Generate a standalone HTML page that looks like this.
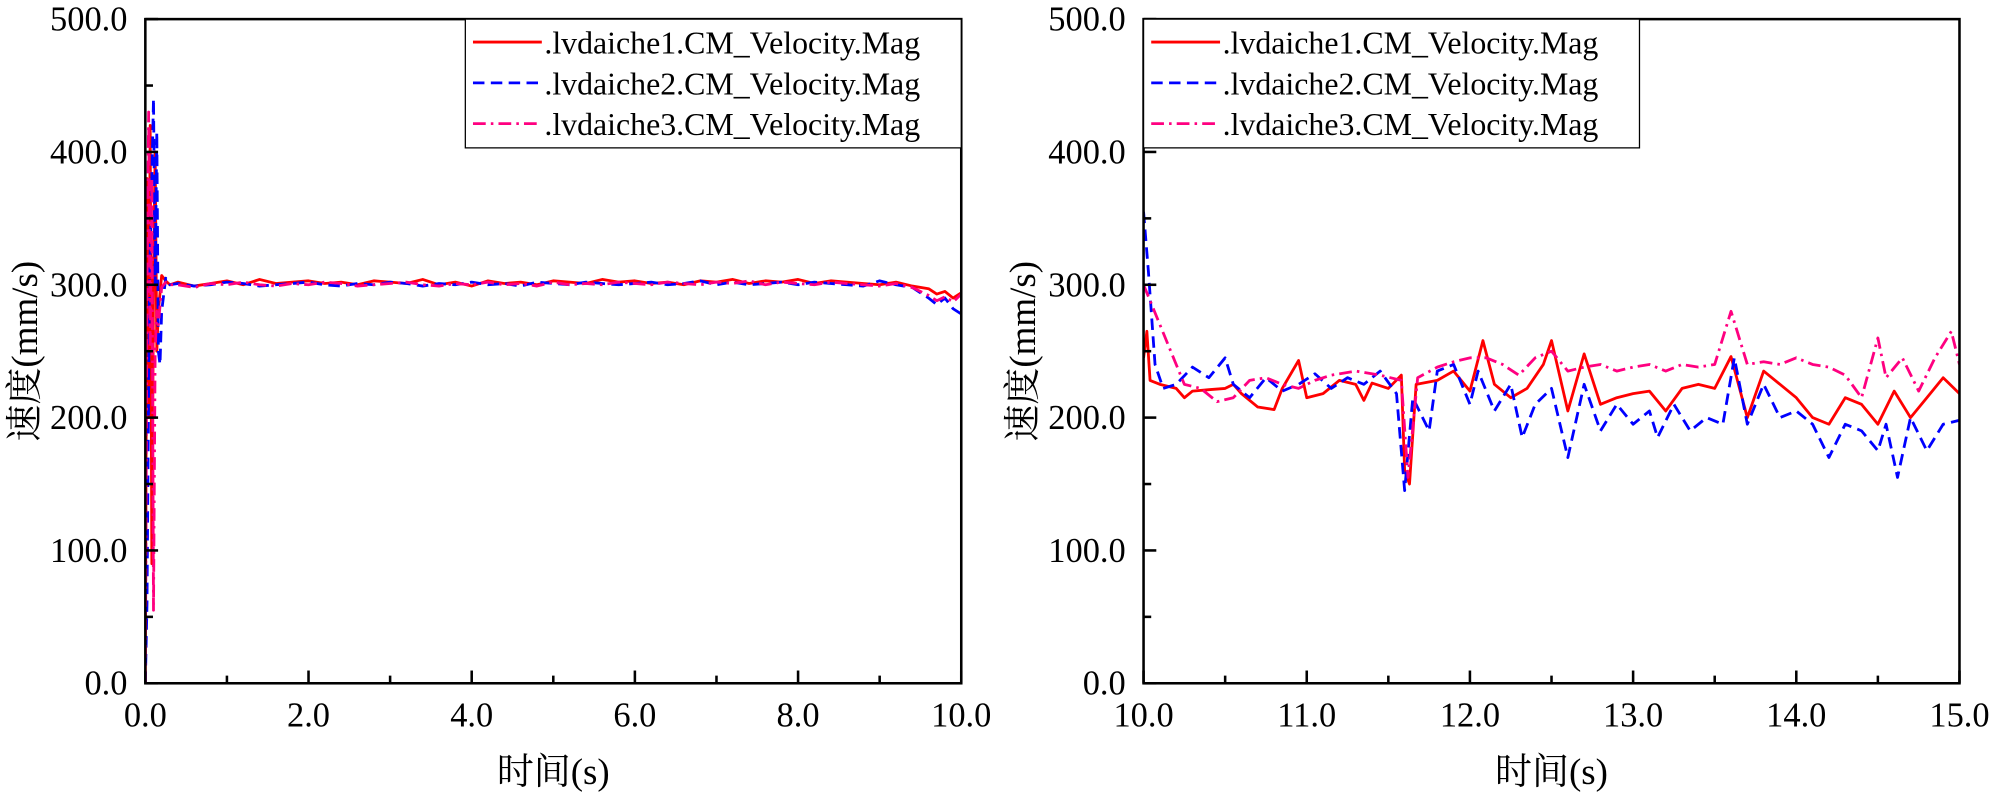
<!DOCTYPE html>
<html><head><meta charset="utf-8"><style>
html,body{margin:0;padding:0;background:#fff;}
svg{display:block;}
text{font-family:"Liberation Serif","Noto Serif CJK SC",serif;fill:#000;}
</style></head><body>
<svg id="chart" width="1999" height="798" viewBox="0 0 1568 626" preserveAspectRatio="none"></svg>
<script>
// ---------- Left chart data (0–10 s) ----------
const leftT1 = [0,0.02,0.04,0.06,0.08,0.1,0.12,0.14,0.16,0.2,0.25,0.3,0.4,0.6,0.8,1.0,1.2,1.4,1.6,1.8,2.0,2.2,2.4,2.6,2.8,3.0,3.2,3.4,3.6,3.8,4.0,4.2,4.4,4.6,4.8,5.0,5.2,5.4,5.6,5.8,6.0,6.2,6.4,6.6,6.8,7.0,7.2,7.4,7.6,7.8,8.0,8.2,8.4,8.6,8.8,9.0,9.2,9.4,9.6,9.7,9.8,9.9,10.0];
const leftV1 = [0,380,200,420,90,300,400,250,280,307,303,300,302,299,301,303,300,304,301,302,303,301,302,300,303,302,301,304,300,302,299,303,301,302,300,303,302,301,304,302,303,301,302,300,303,302,304,301,303,302,304,301,303,302,301,300,302,299,297,293,295,290,294];
const leftT2 = [0,0.02,0.05,0.08,0.1,0.12,0.14,0.16,0.18,0.2,0.25,0.3,0.4,0.6,0.8,1.0,1.2,1.4,1.6,1.8,2.0,2.2,2.4,2.6,2.8,3.0,3.2,3.4,3.6,3.8,4.0,4.2,4.4,4.6,4.8,5.0,5.2,5.4,5.6,5.8,6.0,6.2,6.4,6.6,6.8,7.0,7.2,7.4,7.6,7.8,8.0,8.2,8.4,8.6,8.8,9.0,9.2,9.4,9.6,9.7,9.8,9.9,10.0];
const leftV2 = [0,60,300,380,440,300,415,250,240,280,305,300,301,299,300,302,301,299,300,301,302,300,299,301,300,302,301,299,301,300,302,300,301,299,302,301,300,302,301,300,301,302,300,301,303,300,302,300,301,302,300,302,301,300,299,303,300,298,290,285,290,282,278];
const leftT3 = [0,0.02,0.04,0.06,0.08,0.1,0.12,0.14,0.16,0.2,0.25,0.3,0.4,0.6,0.8,1.0,1.2,1.4,1.6,1.8,2.0,2.2,2.4,2.6,2.8,3.0,3.2,3.4,3.6,3.8,4.0,4.2,4.4,4.6,4.8,5.0,5.2,5.4,5.6,5.8,6.0,6.2,6.4,6.6,6.8,7.0,7.2,7.4,7.6,7.8,8.0,8.2,8.4,8.6,8.8,9.0,9.2,9.4,9.6,9.7,9.8,9.9,10.0];
const leftV3 = [0,300,430,250,380,55,250,280,270,298,302,300,300,298,301,300,302,300,299,301,300,302,301,299,300,301,302,300,299,301,300,302,300,301,299,302,300,301,300,302,301,300,302,301,300,302,301,303,300,302,301,300,302,301,300,299,301,298,292,288,291,287,293];
// ---------- Right chart data (10–15 s) ----------
const rightT1 = [10.0,10.02,10.04,10.1,10.2,10.25,10.3,10.4,10.5,10.55,10.6,10.7,10.8,10.85,10.95,11.0,11.1,11.2,11.3,11.35,11.4,11.5,11.58,11.6,11.63,11.67,11.8,11.9,12.0,12.08,12.15,12.25,12.35,12.45,12.5,12.6,12.7,12.8,12.9,13.0,13.1,13.2,13.3,13.4,13.5,13.6,13.7,13.8,13.9,14.0,14.1,14.2,14.3,14.4,14.5,14.6,14.7,14.8,14.9,15.0];
const rightV1 = [245,265,228,225,222,215,220,221,222,225,218,208,206,222,243,215,218,228,225,213,226,222,232,160,150,225,228,235,220,258,225,215,222,240,258,205,248,210,215,218,220,205,222,225,222,246,200,235,225,215,200,195,215,210,195,220,200,215,230,218];
const rightT2 = [10.0,10.03,10.07,10.12,10.2,10.3,10.4,10.5,10.55,10.65,10.75,10.85,10.95,11.05,11.15,11.25,11.35,11.45,11.55,11.6,11.65,11.75,11.8,11.9,12.0,12.05,12.15,12.25,12.32,12.4,12.5,12.6,12.7,12.8,12.9,13.0,13.1,13.15,13.25,13.35,13.45,13.55,13.62,13.7,13.8,13.9,14.0,14.1,14.2,14.3,14.4,14.5,14.55,14.62,14.7,14.8,14.9,15.0];
const rightV2 = [355,310,240,222,225,238,230,245,225,215,230,220,225,233,222,230,225,235,218,145,215,190,235,240,210,235,205,225,185,210,222,170,225,190,210,195,205,185,210,190,200,195,245,195,225,200,205,195,170,195,190,175,195,155,200,175,195,198];
const rightT3 = [10.0,10.05,10.15,10.25,10.35,10.45,10.55,10.65,10.75,10.85,10.95,11.05,11.15,11.3,11.45,11.58,11.62,11.68,11.8,11.9,12.0,12.1,12.2,12.3,12.4,12.5,12.6,12.7,12.8,12.9,13.0,13.1,13.2,13.3,13.4,13.5,13.6,13.7,13.8,13.9,14.0,14.1,14.2,14.3,14.4,14.5,14.55,14.65,14.75,14.85,14.95,15.0];
const rightV3 = [300,285,255,225,222,212,215,228,230,225,222,228,232,235,232,228,155,230,238,242,245,245,240,232,245,250,235,238,240,235,238,240,235,240,238,240,280,240,242,240,245,240,238,232,215,260,230,245,220,245,265,240];
const yTicks = [0,100,200,300,400,500];
const leftXTicks = [0,2,4,6,8,10];
const rightXTicks = [10,11,12,13,14,15];
const legendLabels = [".lvdaiche1.CM_Velocity.Mag",".lvdaiche2.CM_Velocity.Mag",".lvdaiche3.CM_Velocity.Mag"];

const NS="http://www.w3.org/2000/svg";
const svg=document.getElementById('chart');
function mk(tag,attrs,parent){const e=document.createElementNS(NS,tag);for(const k in attrs)e.setAttribute(k,attrs[k]);(parent||svg).appendChild(e);return e;}
const styles=[{stroke:'#ff0000',dash:''},{stroke:'#0000ff',dash:'9,5'},{stroke:'#ff0080',dash:'10,4,2,4'}];

function panel(id,x0,x1,xmin,xmax,xTicks,minorStep,series,leg){
  const top=15,bot=536;
  const sx=v=>x0+(v-xmin)/(xmax-xmin)*(x1-x0);
  const sy=v=>bot-(v/500)*(bot-top);
  const g=mk('g',{});
  
  
  const clip=mk('clipPath',{id:id+'-clip'},g);
  mk('rect',{x:x0,y:top,width:x1-x0,height:bot-top},clip);
  series.forEach((s,i)=>{
    const d=s.t.map((t,j)=>(j?'L':'M')+sx(t).toFixed(1)+','+sy(s.v[j]).toFixed(1)).join('');
    const p=mk('path',{d:d,fill:'none',stroke:styles[i].stroke,'stroke-width':2.2,'stroke-dasharray':styles[i].dash,'stroke-linejoin':'round','clip-path':'url(#'+id+'-clip)'},g);
    
    
  });
  const fr=mk('rect',{x:x0,y:top,width:x1-x0,height:bot-top,fill:'none',stroke:'#000','stroke-width':2},g);
  
  
  for(let v=0;v<=500;v+=50){
    const major=v%100===0;
    mk('line',{x1:x0,x2:x0+(major?10:6),y1:sy(v),y2:sy(v),stroke:'#000','stroke-width':2},g);
  }
  yTicks.forEach(v=>{
    const t=mk('text',{x:x0-14,y:sy(v)+9,'text-anchor':'end','font-size':27},g);
    t.textContent=v.toFixed(1);
    
    
  });
  for(let v=xmin;v<=xmax+1e-9;v+=minorStep){
    const major=xTicks.some(m=>Math.abs(m-v)<1e-6);
    mk('line',{x1:sx(v),x2:sx(v),y1:bot,y2:bot-(major?10:6),stroke:'#000','stroke-width':2},g);
  }
  xTicks.forEach(v=>{
    const t=mk('text',{x:sx(v),y:bot+34,'text-anchor':'middle','font-size':27},g);
    t.textContent=v.toFixed(1);
    
    
  });
  const xt=mk('text',{x:(x0+x1)/2,y:615,'text-anchor':'middle','font-size':29},g);
  xt.textContent='时间(s)';
  
  
  const yx=x0-85, yc=(top+bot)/2;
  const yt=mk('text',{x:yx,y:yc,'text-anchor':'middle','font-size':29,transform:'rotate(-90 '+yx+' '+yc+')'},g);
  yt.textContent='速度(mm/s)';
  
  
  const lg=mk('g',{},g);
  
  
  mk('rect',{x:leg.x,y:top,width:leg.w,height:101,fill:'#fff',stroke:'#000','stroke-width':1},lg);
  legendLabels.forEach((lab,i)=>{
    const y=top+18+i*32;
    const e=mk('g',{},lg);
    
    
    mk('line',{x1:leg.x+6,x2:leg.x+60,y1:y,y2:y,stroke:styles[i].stroke,'stroke-width':2.2,'stroke-dasharray':styles[i].dash},e);
    const t=mk('text',{x:leg.x+62,y:y+9,'font-size':25},e);
    t.textContent=lab;
  });
}
panel('left',114,754,0,10,leftXTicks,1,[{t:leftT1,v:leftV1},{t:leftT2,v:leftV2},{t:leftT3,v:leftV3}],{x:365,w:389});
panel('right',897,1537,10,15,rightXTicks,0.5,[{t:rightT1,v:rightV1},{t:rightT2,v:rightV2},{t:rightT3,v:rightV3}],{x:897,w:389});
</script>
</body></html>
